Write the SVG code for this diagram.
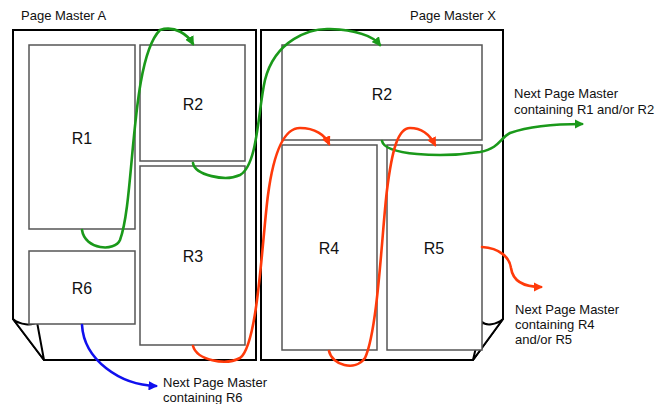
<svg xmlns="http://www.w3.org/2000/svg" width="667" height="404" viewBox="0 0 667 404">
<style>
.page{fill:#fff;stroke:#000;stroke-width:2;stroke-linejoin:miter}
.curl{fill:#fff;stroke:#000;stroke-width:2;stroke-linejoin:round}
.reg{fill:#fff;stroke:#555;stroke-width:1.5}
.rl{font-family:"Liberation Sans",Arial,sans-serif;font-size:16px;fill:#111;text-anchor:middle}
.lbl{font-family:"Liberation Sans",Arial,sans-serif;font-size:13px;fill:#111}
.c{fill:none;stroke-width:2.6;stroke-linecap:round}
.g{stroke:#1a991a}
.r{stroke:#ff3a0a}
.b{stroke:#1010ee}
</style>
<defs>
<marker id="ag" viewBox="0 0 10 10" refX="8" refY="5" markerWidth="3.6" markerHeight="3.6" orient="auto" markerUnits="strokeWidth"><path d="M0,0 L10,5 L0,10 Z" fill="#1a991a"/></marker>
<marker id="ar" viewBox="0 0 10 10" refX="8" refY="5" markerWidth="3.6" markerHeight="3.6" orient="auto" markerUnits="strokeWidth"><path d="M0,0 L10,5 L0,10 Z" fill="#ff3a0a"/></marker>
<marker id="ab" viewBox="0 0 10 10" refX="8" refY="5" markerWidth="3.6" markerHeight="3.6" orient="auto" markerUnits="strokeWidth"><path d="M0,0 L10,5 L0,10 Z" fill="#1010ee"/></marker>
</defs>
<g id="pageA">
<path class="page" d="M13 30 H256 V360 H44 L13 319 Z"/>
<path class="curl" d="M13 319 C20 325 32 326 37 322 L44 360 Z"/>
<text class="lbl" x="21" y="20">Page Master A</text>
</g>
<g id="pageX">
<path class="page" d="M261 30 H503 V319 L473 360 H261 Z"/>
<path class="curl" d="M503 319 C496 325 486 326 482 322 L473 360 Z"/>
<text class="lbl" x="410" y="20">Page Master X</text>
</g>
<g id="A-R1"><rect class="reg" x="29" y="45" width="106" height="184"/><text class="rl" x="82" y="144">R1</text></g>
<g id="A-R2"><rect class="reg" x="140" y="45" width="105" height="116"/><text class="rl" x="193" y="110">R2</text></g>
<g id="A-R3"><rect class="reg" x="140" y="166" width="105" height="179"/><text class="rl" x="193" y="262">R3</text></g>
<g id="A-R6"><rect class="reg" x="29" y="251" width="106" height="73"/><text class="rl" x="82" y="294">R6</text></g>
<g id="X-R2"><rect class="reg" x="282" y="45" width="200" height="95"/><text class="rl" x="382" y="100">R2</text></g>
<g id="X-R4"><rect class="reg" x="282" y="145" width="95" height="205"/><text class="rl" x="329" y="254">R4</text></g>
<g id="X-R5"><rect class="reg" x="387" y="145" width="95" height="205"/><text class="rl" x="434" y="254">R5</text></g>
<g id="next-R12"><text class="lbl" x="514" y="98">Next Page Master</text><text class="lbl" x="514" y="113.5">containing R1 and/or R2</text></g>
<g id="next-R45"><text class="lbl" x="515" y="314">Next Page Master</text><text class="lbl" x="515" y="329">containing R4</text><text class="lbl" x="515" y="344">and/or R5</text></g>
<g id="next-R6"><text class="lbl" x="163" y="387">Next Page Master</text><text class="lbl" x="163" y="402">containing R6</text></g>
<g id="connectors">
<path class="c g" marker-end="url(#ag)" d="M82 230 C85 250 115 252 120 240 C135 200 130 60 160 30 C175 25 188 35 193 44"/>
<path class="c g" marker-end="url(#ag)" d="M193 163 C195 175 225 182 240 175 C258 165 258 110 265 80 C275 40 310 28 330 29 C355 30 372 35 380 45"/>
<path class="c g" marker-end="url(#ag)" d="M382 141 C385 155 440 158 480 152 C500 148 500 138 510 133 C530 126 560 124 582 124"/>
<path class="c r" marker-end="url(#ar)" d="M193 346 C197 360 225 366 240 358 C258 345 262 240 268 195 C274 150 285 128 300 128 C315 128 325 135 329 144"/>
<path class="c r" marker-end="url(#ar)" d="M329 351 C332 365 355 372 365 358 C378 330 382 230 387 190 C392 150 398 128 410 128 C422 128 430 135 435 145"/>
<path class="c r" marker-end="url(#ar)" d="M482 247 C500 248 510 258 511 268 C513 282 525 287 541 287"/>
<path class="c b" marker-end="url(#ab)" d="M82 325 C84 360 120 385 156 386"/>
</g>
</svg>
